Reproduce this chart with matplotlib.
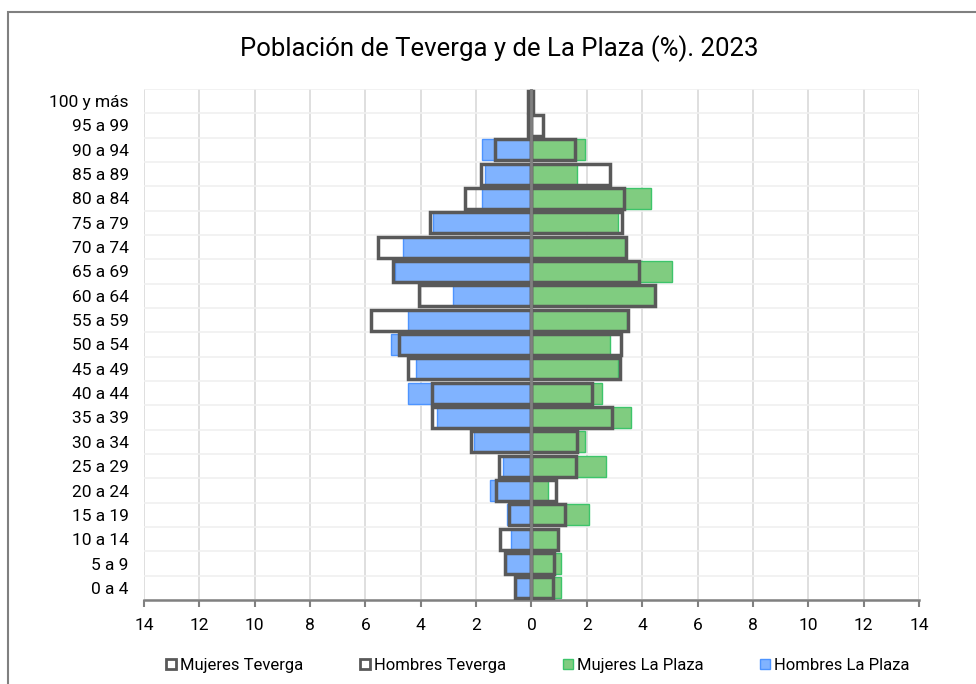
import matplotlib
matplotlib.use('Agg')
import matplotlib.pyplot as plt
from matplotlib.patches import Patch, Rectangle
import numpy as np

plt.rcParams['font.family'] = ['Roboto', 'DejaVu Sans']

# Age groups, bottom to top
grupos = ['0 a 4', '5 a 9', '10 a 14', '15 a 19', '20 a 24', '25 a 29',
          '30 a 34', '35 a 39', '40 a 44', '45 a 49', '50 a 54', '55 a 59',
          '60 a 64', '65 a 69', '70 a 74', '75 a 79', '80 a 84', '85 a 89',
          '90 a 94', '95 a 99', '100 y más']

# percentages
hombres_plaza = [0.57, 0.92, 0.73, 0.88, 1.49, 1.02, 2.08, 3.41, 4.47, 4.18,
                 5.06, 4.47, 2.83, 4.94, 4.63, 3.55, 1.80, 1.67, 1.80, 0.0, 0.0]
mujeres_plaza = [1.05, 1.05, 0.95, 2.08, 0.61, 2.70, 1.94, 3.59, 2.54, 3.13,
                 2.84, 3.46, 4.47, 5.07, 3.37, 3.13, 4.33, 1.64, 1.94, 0.0, 0.0]
hombres_teverga = [0.59, 0.95, 1.14, 0.83, 1.28, 1.19, 2.20, 3.60, 3.60, 4.47,
                   4.80, 5.78, 4.08, 5.02, 5.54, 3.65, 2.39, 1.83, 1.33, 0.12, 0.14]
mujeres_teverga = [0.77, 0.82, 0.95, 1.20, 0.89, 1.60, 1.65, 2.92, 2.20, 3.19,
                   3.22, 3.47, 4.47, 3.90, 3.40, 3.27, 3.34, 2.83, 1.59, 0.40, 0.07]

xticks = np.arange(-14, 15, 2)

fig = plt.figure(figsize=(9.76, 6.84), dpi=100)
ax = fig.add_axes([0.1475, 0.1228, 0.7941, 0.7471])

y = np.arange(len(grupos))
h = 0.86

# La Plaza (filled)
ax.barh(y, [-v for v in hombres_plaza], height=h, color='#80b3ff',
        edgecolor='#4d94ff', linewidth=1, zorder=2)
ax.barh(y, mujeres_plaza, height=h, color='#80cc80',
        edgecolor='#3dc46a', linewidth=1, zorder=2)

# Teverga (outline only)
ax.barh(y, [-v for v in hombres_teverga], height=h, facecolor='none',
        edgecolor='#595959', linewidth=2.5, zorder=3)
ax.barh(y, mujeres_teverga, height=h, facecolor='none',
        edgecolor='#595959', linewidth=2.5, zorder=3)

ax.axvline(0, color='#808080', linewidth=2, zorder=4)

ax.set_xlim(-14, 14)
ax.set_ylim(-0.5, len(grupos) - 0.5)
ax.set_xticks(xticks)
ax.set_xticklabels([str(abs(t)) for t in xticks], fontsize=12.5)
ax.set_yticks(y)
ax.set_yticklabels(grupos, fontsize=12.5)
ax.tick_params(axis='y', length=0, pad=11)
ax.tick_params(axis='x', direction='out', length=5, width=1.5,
               color='#808080', pad=8)

# grid
for t in xticks:
    ax.axvline(t, color='#d9d9d9', linewidth=1.2, zorder=0)
for b in np.arange(-0.5, len(grupos), 1):
    ax.axhline(b, color='#f0f0f0', linewidth=1.2, zorder=0)

for s in ['top', 'right', 'left']:
    ax.spines[s].set_visible(False)
ax.spines['bottom'].set_color('#808080')
ax.spines['bottom'].set_linewidth(1.8)

fig.text(0.512, 0.929, 'Población de Teverga y de La Plaza (%). 2023',
         ha='center', va='center', fontsize=18.5, color='black')

handles = [Patch(facecolor='white', edgecolor='#595959', linewidth=2),
           Patch(facecolor='white', edgecolor='#595959', linewidth=2),
           Patch(facecolor='#80cc80', edgecolor='#3dc46a', linewidth=1),
           Patch(facecolor='#80b3ff', edgecolor='#4d94ff', linewidth=1)]
labels = ['Mujeres Teverga', 'Hombres Teverga', 'Mujeres La Plaza', 'Hombres La Plaza']
fig.legend(handles, labels, loc='center', bbox_to_anchor=(0.551, 0.027),
           ncol=4, frameon=False, fontsize=12, handlelength=0.6,
           handleheight=0.6, handletextpad=0.25, columnspacing=3.4)

# outer border
fig.patches.append(Rectangle((8 / 976, -0.1), 1.2, 1 - 12 / 684 + 0.1,
                             transform=fig.transFigure, fill=False,
                             edgecolor='#808080', linewidth=1.5))

fig.savefig('out.png', dpi=100)
